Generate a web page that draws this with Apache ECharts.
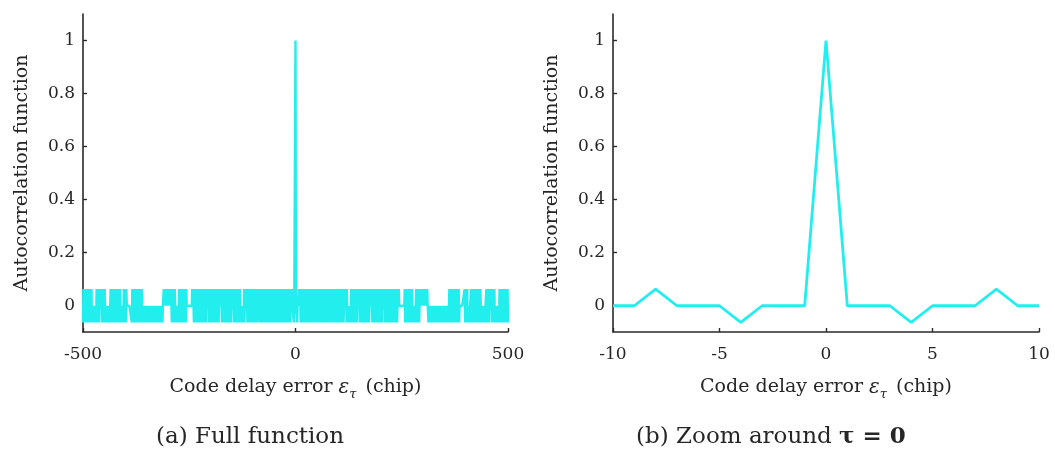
<!DOCTYPE html>
<html>
<head>
<meta charset="utf-8">
<script src="https://cdn.jsdelivr.net/npm/echarts@6/dist/echarts.min.js"></script>
<style>
html,body{margin:0;padding:0;background:#fff;}
#c{width:1055px;height:450px;}
</style>
</head>
<body>
<div id="c"></div>
<script>
// Autocorrelation levels (three side-lobe levels + main peak)
const LEVELS = { p: 0.062, z: -0.001, n: -0.064 };
const PEAK = 1;
// Side-lobe level per chip for delays 1..500 (function is symmetric in delay)
const CODE_RIGHT = [
  "zzznzzzpzz","pnzpznzpnz","zpnpzznpzn","pznzpnzpzn","npzpznzpnz",
  "zpnzpznpzz","npzznpzpnz","pzpnzpnzpz","npzpnzpzpz","npzpnzznpz",
  "pnzpzpnzpn","zpnzpzpzpn","pnzznzznzn","pzpnzpnzpz","npznzpzpzp",
  "nzpnzpzpnz","pnzpznpzpn","zpnzpzpzpz","npznpzpnzp","znpzpnzpzn",
  "pznzpzpzpn","zpnzpnzpzn","pzpnzpnzpn","zpnpznzpnz","pzpzzzzzzz",
  "zzzzzzpnzp","nzpnzpznpz","pnzpnznzzn","znzpnzpnzp","nzpzpzpzpz",
  "pzpzzpzpzp","zznznzznzn","znznzzznzn","zznzznznzz","nznzzznznz",
  "znzznznzzn","zpnzpnzpnz","pznpzpnzpn","zpnpnzzzzz","zzzzzzzpnz",
  "pnzpnzznzn","zzpnzpnzpz","npznpzpnzp","znpzpznzzn","zznzznzzpn",
  "zpnzpnzpzp","zpnzpnzpnz","nzznznzznp","znpzpnzpnz","pznpzpnzpn"
].join("");
const X_TICKS_A = [-500, 0, 500];
const X_TICKS_B = [-10, -5, 0, 5, 10];
const Y_TICKS = [0, 0.2, 0.4, 0.6, 0.8, 1];

const fullData = [];
for (let k = -500; k <= 500; k++) {
  const v = k === 0 ? PEAK : LEVELS[CODE_RIGHT[Math.abs(k) - 1]];
  fullData.push([k, v]);
}
const zoomData = fullData.filter(d => d[0] >= -10 && d[0] <= 10);

const FONT = "DejaVu Serif";
const TXT = "#262626";
const AX = { show: true, onZero: false, lineStyle: { color: "#2a2a2a", width: 1.6 } };
const LINE_COLOR = "#22eeee";

function xAxis(idx, min, max, ticks, interval) {
  return {
    type: "value", gridIndex: idx, min: min, max: max, interval: interval,
    axisLine: AX,
    axisTick: { show: true, inside: true, length: 4, customValues: ticks, lineStyle: { color: "#2a2a2a", width: 1.4 } },
    axisLabel: { customValues: ticks, margin: 14, fontFamily: FONT, fontSize: 17, color: TXT },
    splitLine: { show: false },
    name: "{a|Code delay error }{e|ε}{s|τ}{a| (chip)}",
    nameLocation: "middle", nameGap: 42,
    nameTextStyle: {
      fontFamily: FONT, fontSize: 19, color: TXT,
      rich: {
        a: { fontFamily: FONT, fontSize: 19, color: TXT },
        e: { fontFamily: FONT, fontSize: 20, fontStyle: "italic", color: TXT },
        s: { fontFamily: FONT, fontSize: 13, fontStyle: "italic", color: TXT, padding: [14, 3, 0, 0] }
      }
    }
  };
}
function yAxis(idx) {
  return {
    type: "value", gridIndex: idx, min: -0.1, max: 1.1,
    axisLine: AX,
    axisTick: { show: true, inside: true, length: 4, customValues: Y_TICKS, lineStyle: { color: "#2a2a2a", width: 1.4 } },
    axisLabel: { customValues: Y_TICKS, margin: 8, fontFamily: FONT, fontSize: 17, color: TXT,
      formatter: v => String(Math.round(v * 10) / 10) },
    splitLine: { show: false },
    name: "Autocorrelation function",
    nameLocation: "middle", nameGap: 51,
    nameTextStyle: { fontFamily: FONT, fontSize: 19, color: TXT }
  };
}

const chart = echarts.init(document.getElementById("c"), null, { renderer: "canvas" });
chart.setOption({
  animation: false,
  backgroundColor: "#fff",
  grid: [
    { left: 83, top: 14, width: 425, height: 318 },
    { left: 613, top: 14, width: 426, height: 318 }
  ],
  xAxis: [xAxis(0, -500, 500, X_TICKS_A, 500), xAxis(1, -10, 10, X_TICKS_B, 5)],
  yAxis: [yAxis(0), yAxis(1)],
  series: [
    { type: "line", xAxisIndex: 0, yAxisIndex: 0, data: fullData, showSymbol: false,
      lineStyle: { color: LINE_COLOR, width: 2.4 }, itemStyle: { color: LINE_COLOR } },
    { type: "line", xAxisIndex: 1, yAxisIndex: 1, data: zoomData, showSymbol: false,
      lineStyle: { color: LINE_COLOR, width: 2.8 }, itemStyle: { color: LINE_COLOR } }
  ],
  graphic: [
    { type: "text", x: 250, y: 437, style: { text: "(a) Full function", textAlign: "center", textVerticalAlign: "middle",
      fontFamily: FONT, fontSize: 23, fill: TXT } },
    { type: "text", x: 771, y: 437, style: { text: "(b) Zoom around {b|τ = 0}", textAlign: "center", textVerticalAlign: "middle",
      fontFamily: FONT, fontSize: 23, fill: TXT,
      rich: { b: { fontFamily: FONT, fontSize: 23, fontWeight: "bold", fill: TXT } } } }
  ]
});
</script>
</body>
</html>
